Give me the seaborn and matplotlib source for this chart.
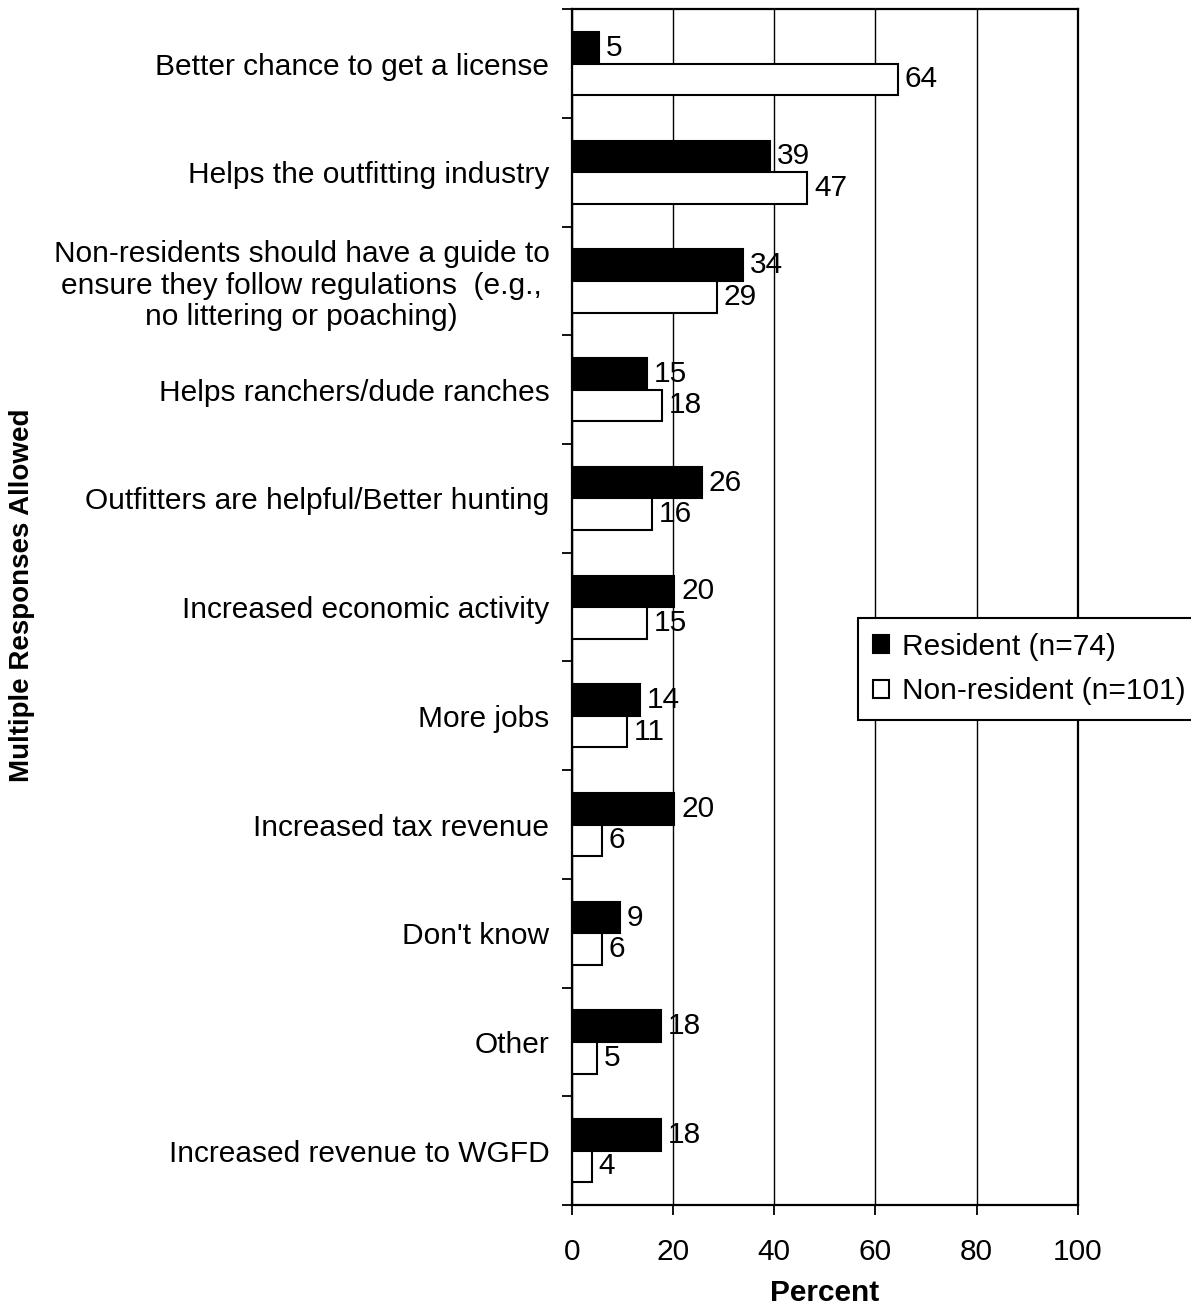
import numpy as np
import pandas as pd
import matplotlib
matplotlib.use('Agg')
import matplotlib.pyplot as plt
import seaborn as sns

# reasons, top to bottom
categories = [
    'Better chance to get a license',
    'Helps the outfitting industry',
    'Non-residents should have a guide to\nensure they follow regulations  (e.g.,\nno littering or poaching)',
    'Helps ranchers/dude ranches',
    'Outfitters are helpful/Better hunting',
    'Increased economic activity',
    'More jobs',
    'Increased tax revenue',
    "Don't know",
    'Other',
    'Increased revenue to WGFD',
]
resident = [5.4, 39.2, 33.8, 14.9, 25.7, 20.3, 13.5, 20.3, 9.5, 17.6, 17.6]
nonresident = [64.4, 46.5, 28.7, 17.8, 15.8, 14.9, 10.9, 5.9, 5.9, 5.0, 4.0]
resident_labels = [5, 39, 34, 15, 26, 20, 14, 20, 9, 18, 18]
nonresident_labels = [64, 47, 29, 18, 16, 15, 11, 6, 6, 5, 4]
groups = ['Resident (n=74)', 'Non-resident (n=101)']
x_ticks = [0, 20, 40, 60, 80, 100]

sns.set_style('white')
plt.rcParams['font.family'] = ['Liberation Sans', 'DejaVu Sans']
plt.rcParams['text.color'] = 'black'
plt.rcParams['axes.labelcolor'] = 'black'
plt.rcParams['xtick.color'] = 'black'
plt.rcParams['ytick.color'] = 'black'

FS = 21.5

df = pd.DataFrame({
    'reason': categories * 2,
    'percent': resident + nonresident,
    'group': [groups[0]] * len(categories) + [groups[1]] * len(categories),
})

fig = plt.figure(figsize=(11.91, 13.12), dpi=100)
ax = fig.add_axes([0.480, 0.0815, 0.425, 0.9115])

sns.barplot(data=df, y='reason', x='percent', hue='group', hue_order=groups,
            order=categories, palette={groups[0]: 'black', groups[1]: 'white'},
            edgecolor='black', linewidth=1.5, width=0.58, gap=0, ax=ax,
            errorbar=None)

# value labels
for cont, labs in zip(ax.containers, [resident_labels, nonresident_labels]):
    ax.bar_label(cont, labels=[str(v) for v in labs], padding=5, fontsize=FS,
                 color='black')

ax.set_xlim(0, 100)
ax.set_ylim(10.5, -0.5)
ax.set_xticks(x_ticks)
ax.set_xticklabels([str(t) for t in x_ticks])
ax.set_axisbelow(True)
ax.xaxis.grid(True, color='black', linewidth=1)

ax.set_yticks(np.arange(-0.5, len(categories), 1), minor=True)
ax.tick_params(axis='y', which='major', length=0, pad=16, labelsize=FS)
ax.tick_params(axis='y', which='minor', length=7, width=1.3, direction='out', left=True)
ax.tick_params(axis='x', which='major', length=7, width=1.3, direction='out',
               bottom=True, pad=17, labelsize=FS)
for lab in ax.get_yticklabels():
    lab.set_multialignment('center')
    lab.set_linespacing(1.15)

for sp in ax.spines.values():
    sp.set_visible(True)
    sp.set_color('black')
    sp.set_linewidth(1.6)

ax.set_ylabel('')
ax.set_xlabel('Percent', fontsize=FS, fontweight='bold', labelpad=9)
fig.text(22 / 1191, 1 - 595 / 1312, 'Multiple Responses Allowed', rotation=90,
         ha='center', va='center', fontsize=20, fontweight='bold')

handles = ax.containers
ax.legend(handles, groups, loc='upper left', bbox_to_anchor=(0.565, 0.491),
          fontsize=FS, frameon=True, fancybox=False, framealpha=1,
          edgecolor='black', handlelength=0.55, handleheight=0.55,
          handletextpad=0.45, borderpad=0.5, labelspacing=0.55,
          borderaxespad=0)
ax.get_legend().get_frame().set_linewidth(1.5)

fig.savefig('out.png', dpi=100)
